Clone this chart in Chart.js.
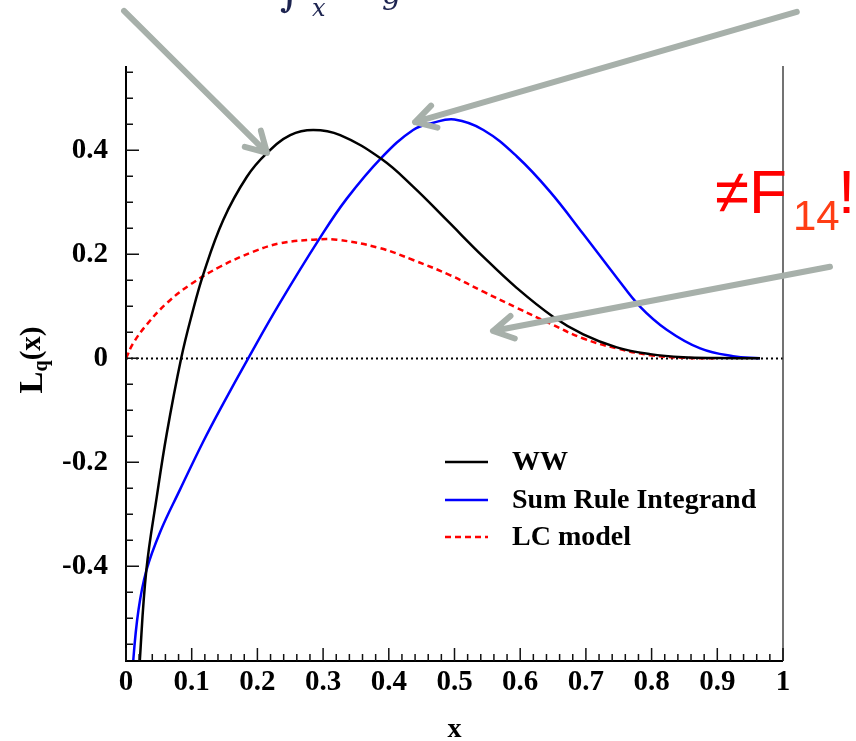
<!DOCTYPE html>
<html>
<head>
<meta charset="utf-8">
<script src="https://cdn.jsdelivr.net/npm/chart.js@4.4.1/dist/chart.umd.min.js"></script>
<style>
  html, body { margin: 0; padding: 0; background: #fff; }
  #wrap { width: 856px; height: 741px; }
</style>
</head>
<body>
<div id="wrap"><canvas id="c" width="856" height="741"></canvas></div>
<script>
// ─────────────────────────────────────────
// DATA
// ─────────────────────────────────────────
const wwX = [0.015, 0.021, 0.031, 0.047, 0.062, 0.084, 0.100, 0.118, 0.148, 0.184, 0.214, 0.250, 0.285, 0.326, 0.389, 0.437, 0.488, 0.544, 0.595, 0.650, 0.696, 0.747, 0.798, 0.848, 0.900, 0.965];
const wwY = [-0.72, -0.582, -0.407, -0.265, -0.145, 0.0, 0.083, 0.163, 0.266, 0.349, 0.394, 0.429, 0.439, 0.429, 0.383, 0.330, 0.266, 0.195, 0.135, 0.080, 0.046, 0.021, 0.008, 0.002, 0.0005, 0.0];

const sumX = [0.007, 0.011, 0.019, 0.031, 0.052, 0.082, 0.118, 0.148, 0.186, 0.234, 0.295, 0.336, 0.389, 0.437, 0.468, 0.500, 0.544, 0.595, 0.645, 0.696, 0.747, 0.782, 0.823, 0.874, 0.924, 0.965];
const sumY = [-0.68, -0.582, -0.484, -0.408, -0.334, -0.253, -0.159, -0.087, 0.0, 0.106, 0.231, 0.307, 0.386, 0.439, 0.453, 0.459, 0.439, 0.388, 0.321, 0.239, 0.155, 0.100, 0.055, 0.019, 0.004, 0.0];

const lcX = [0.0, 0.011, 0.031, 0.062, 0.097, 0.143, 0.194, 0.234, 0.285, 0.321, 0.386, 0.437, 0.493, 0.544, 0.595, 0.645, 0.696, 0.747, 0.798, 0.848, 0.900];
const lcY = [0.0, 0.029, 0.064, 0.106, 0.141, 0.176, 0.205, 0.221, 0.228, 0.228, 0.212, 0.189, 0.160, 0.128, 0.097, 0.067, 0.038, 0.019, 0.006, 0.001, 0.0];

const seriesNames = ['WW', 'Sum Rule Integrand', 'LC model'];
const xTickValues = [0, 0.1, 0.2, 0.3, 0.4, 0.5, 0.6, 0.7, 0.8, 0.9, 1];
const yTickValues = [-0.4, -0.2, 0, 0.2, 0.4];

// ─────────────────────────────────────────
// CONSTANTS
// ─────────────────────────────────────────
const SERIF = "'Liberation Serif', 'Times New Roman', serif";
const SANS = "'Liberation Sans', Arial, sans-serif";
const ARROW = '#a7b0aa';
const X_RANGE = { min: 0, max: 1 };
const Y_RANGE = { min: -0.582, max: 0.562 };

// arrows in data units: [fromX, fromY, tipX, tipY]
const arrows = [
  [-0.003, 0.668, 0.2146, 0.395],
  [1.021, 0.666, 0.440, 0.454],
  [1.0715, 0.176, 0.5586, 0.0525],
];

const zip = (xs, ys) => xs.map((x, i) => ({ x, y: ys[i] }));

// ─────────────────────────────────────────
// DRAW HELPERS
// ─────────────────────────────────────────
function drawArrow(ctx, x1, y1, x2, y2) {
  const ang = Math.atan2(y2 - y1, x2 - x1);
  const len = 23, spread = 0.52;
  ctx.save();
  ctx.strokeStyle = ARROW;
  ctx.lineWidth = 6;
  ctx.lineCap = 'round';
  ctx.lineJoin = 'round';
  ctx.beginPath();
  ctx.moveTo(x1, y1);
  ctx.lineTo(x2, y2);
  ctx.moveTo(x2 - len * Math.cos(ang - spread), y2 - len * Math.sin(ang - spread));
  ctx.lineTo(x2, y2);
  ctx.lineTo(x2 - len * Math.cos(ang + spread), y2 - len * Math.sin(ang + spread));
  ctx.stroke();
  ctx.restore();
}

const paperPlugin = {
  id: 'paper',
  beforeDatasetsDraw(chart) {
    const { ctx, chartArea: a, scales: { y } } = chart;
    const y0 = Math.round(y.getPixelForValue(0)) + 0.5;
    ctx.save();
    ctx.strokeStyle = '#000';
    ctx.lineWidth = 2;
    ctx.setLineDash([2, 3]);
    ctx.beginPath();
    ctx.moveTo(a.left, y0);
    ctx.lineTo(a.right, y0);
    ctx.stroke();
    ctx.restore();
  },
  afterDraw(chart) {
    const { ctx, chartArea: a, scales: { x, y } } = chart;
    ctx.save();

    // frame: left + bottom axes, thin right line
    ctx.strokeStyle = '#000';
    ctx.lineWidth = 2;
    ctx.beginPath();
    ctx.moveTo(a.left, a.top);
    ctx.lineTo(a.left, a.bottom);
    ctx.lineTo(a.right, a.bottom);
    ctx.stroke();
    ctx.strokeStyle = '#444';
    ctx.lineWidth = 1.5;
    ctx.beginPath();
    ctx.moveTo(a.right, a.top);
    ctx.lineTo(a.right, a.bottom);
    ctx.stroke();

    // inward ticks
    ctx.strokeStyle = '#111';
    ctx.lineWidth = 1.5;
    ctx.beginPath();
    for (let i = 0; i <= 50; i++) {
      const px = x.getPixelForValue(i * 0.02);
      const major = i % 5 === 0;
      ctx.moveTo(px, a.bottom);
      ctx.lineTo(px, a.bottom - (major ? 13 : 7));
    }
    for (let i = -11; i <= 11; i++) {
      const py = y.getPixelForValue(i * 0.05);
      if (py < a.top || py > a.bottom) continue;
      const major = i % 4 === 0;
      ctx.moveTo(a.left, py);
      ctx.lineTo(a.left + (major ? 13 : 7), py);
    }
    ctx.stroke();

    // axis titles
    ctx.fillStyle = '#000';
    ctx.font = `bold 28px ${SERIF}`;
    ctx.textAlign = 'center';
    ctx.textBaseline = 'alphabetic';
    ctx.fillText('x', (a.left + a.right) / 2, 737);

    ctx.save();
    ctx.translate(42, 360);
    ctx.rotate(-Math.PI / 2);
    ctx.textAlign = 'left';
    ctx.font = `bold 33px ${SERIF}`;
    const wL = ctx.measureText('L').width;
    ctx.font = `bold 20px ${SERIF}`;
    const wq = ctx.measureText('q').width;
    ctx.font = `bold 29px ${SERIF}`;
    const wp = ctx.measureText('(x)').width;
    let sx = -(wL + wq + wp) / 2;
    ctx.font = `bold 33px ${SERIF}`;
    ctx.fillText('L', sx, 0);
    sx += wL;
    ctx.font = `bold 20px ${SERIF}`;
    ctx.fillText('q', sx, 5);
    sx += wq;
    ctx.font = `bold 29px ${SERIF}`;
    ctx.fillText('(x)', sx, -2);
    ctx.restore();

    // legend
    const legendY = [462, 500, 537];
    ctx.font = `bold 28px ${SERIF}`;
    ctx.textAlign = 'left';
    ctx.textBaseline = 'middle';
    chart.data.datasets.forEach((ds, i) => {
      ctx.strokeStyle = ds.borderColor;
      ctx.lineWidth = ds.borderWidth;
      ctx.setLineDash(ds.borderDash || []);
      ctx.beginPath();
      ctx.moveTo(445, legendY[i]);
      ctx.lineTo(488, legendY[i]);
      ctx.stroke();
      ctx.setLineDash([]);
      ctx.fillStyle = '#000';
      ctx.fillText(ds.label, 512, legendY[i] + 1);
    });

    // cut-off formula at the very top
    ctx.fillStyle = '#1d2450';
    ctx.textBaseline = 'alphabetic';
    ctx.font = `italic bold 34px 'DejaVu Serif', serif`;
    ctx.fillText('\u222B', 280, 7);
    ctx.font = `italic 24px 'DejaVu Serif', serif`;
    ctx.fillText('x', 312, 16);
    ctx.font = `italic 30px 'DejaVu Serif', serif`;
    ctx.fillText('g', 382, 4);

    // arrows
    arrows.forEach(([fx, fy, tx, ty]) => {
      drawArrow(ctx, x.getPixelForValue(fx), y.getPixelForValue(fy),
        x.getPixelForValue(tx), y.getPixelForValue(ty));
    });

    // red remark
    ctx.textBaseline = 'alphabetic';
    ctx.fillStyle = '#ff0000';
    ctx.font = `62px ${SANS}`;
    ctx.fillText('\u2260F', 715, 213);
    ctx.fillStyle = '#ff3d14';
    ctx.font = `42px ${SANS}`;
    ctx.fillText('14', 793, 230);
    ctx.fillStyle = '#ff0000';
    ctx.font = `62px ${SANS}`;
    ctx.fillText('!', 838, 213);

    ctx.restore();
  },
};

// ─────────────────────────────────────────
// CHART
// ─────────────────────────────────────────
const tickFont = { family: SERIF, size: 29, weight: 'bold' };
const fmt = (v) => String(+Number(v).toFixed(2));
const lineStyle = { showLine: true, borderWidth: 2.5, pointRadius: 0, tension: 0.4 };

new Chart(document.getElementById('c'), {
  type: 'scatter',
  data: {
    datasets: [
      { ...lineStyle, label: seriesNames[0], data: zip(wwX, wwY), borderColor: '#000000' },
      { ...lineStyle, label: seriesNames[1], data: zip(sumX, sumY), borderColor: '#0000ff' },
      { ...lineStyle, label: seriesNames[2], data: zip(lcX, lcY), borderColor: '#ff0000', borderDash: [6, 4] },
    ],
  },
  options: {
    responsive: false,
    animation: false,
    devicePixelRatio: 1,
    layout: { padding: { left: 0, right: 73, top: 66, bottom: 30 } },
    plugins: { legend: { display: false }, tooltip: { enabled: false } },
    scales: {
      x: {
        type: 'linear',
        min: X_RANGE.min,
        max: X_RANGE.max,
        afterBuildTicks: (s) => { s.ticks = xTickValues.map((value) => ({ value })); },
        afterFit: (s) => { s.height = 50; },
        ticks: { color: '#000', font: tickFont, padding: 4, maxRotation: 0, autoSkip: false, callback: fmt },
        grid: { display: false, drawTicks: false },
        border: { display: false },
      },
      y: {
        type: 'linear',
        min: Y_RANGE.min,
        max: Y_RANGE.max,
        afterBuildTicks: (s) => { s.ticks = yTickValues.map((value) => ({ value })); },
        afterFit: (s) => { s.width = 126; },
        ticks: { color: '#000', font: tickFont, padding: 18, autoSkip: false, callback: fmt },
        grid: { display: false, drawTicks: false },
        border: { display: false },
      },
    },
  },
  plugins: [paperPlugin],
});
</script>
</body>
</html>
